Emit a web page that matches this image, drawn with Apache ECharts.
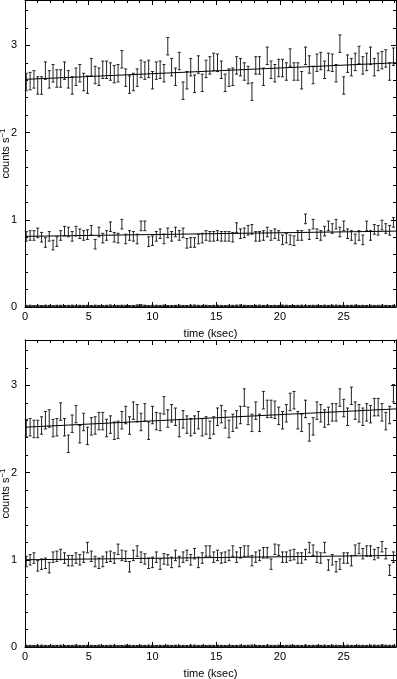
<!DOCTYPE html>
<html>
<head>
<meta charset="utf-8">
<script src="https://cdn.jsdelivr.net/npm/echarts@6/dist/echarts.min.js"></script>
<style>
html, body { margin: 0; padding: 0; background: #fff; }
#chart { width: 397px; height: 679px; }
</style>
</head>
<body>
<div id="chart"></div>
<script>
// time bins (ksec)
var BIN = 0.3, T0 = 0.1;
var X_MAX = 29.1, Y_MAX = 3.52;

// upper panel: source band, second band, background
var srcA = [2.58,2.59,2.61,2.54,2.54,2.71,2.61,2.68,2.62,2.62,2.71,2.61,2.54,2.64,2.68,2.58,2.55,2.75,2.66,2.64,
    2.72,2.72,2.70,2.67,2.68,2.84,2.63,2.55,2.58,2.63,2.73,2.71,2.73,2.60,2.71,2.72,2.68,2.99,2.75,2.64,
    2.82,2.48,2.60,2.75,2.56,2.78,2.57,2.73,2.77,2.81,2.80,2.72,2.57,2.63,2.64,2.77,2.75,2.70,2.66,2.47,
    2.77,2.77,2.64,2.88,2.72,2.68,2.74,2.74,2.70,2.86,2.70,2.70,2.60,2.88,2.78,2.66,2.80,2.82,2.72,2.81,
    2.80,2.68,3.02,2.54,2.79,2.75,2.81,2.89,2.77,2.81,2.88,2.75,2.81,2.83,2.85,2.70,2.87];
var midA = [0.81,0.82,0.82,0.85,0.80,0.74,0.81,0.71,0.75,0.82,0.87,0.86,0.81,0.87,0.84,0.82,0.83,0.88,0.72,0.86,
    0.79,0.82,0.92,0.80,0.79,0.95,0.78,0.82,0.81,0.78,0.93,0.93,0.75,0.76,0.81,0.84,0.78,0.85,0.81,0.86,
    0.82,0.85,0.73,0.74,0.74,0.78,0.79,0.82,0.81,0.81,0.82,0.81,0.81,0.81,0.80,0.91,0.84,0.85,0.88,0.89,
    0.81,0.81,0.82,0.86,0.82,0.84,0.82,0.77,0.79,0.77,0.76,0.82,0.82,1.01,0.83,0.95,0.84,0.82,0.87,0.93,
    0.90,0.95,0.86,0.93,0.84,0.82,0.78,0.82,0.77,0.93,0.82,0.89,0.88,0.94,0.90,0.88,0.97];
var bgA = [0.010,0.012,0.008,0.011,0.009,0.013,0.010,0.007,0.012,0.011,0.009,0.010,0.014,0.008,0.011,0.010,
    0.012,0.009,0.013,0.010,0.008,0.011,0.015,0.009,0.010,0.012,0.011,0.008,0.010,0.016,0.018,0.013,0.009,
    0.011,0.012,0.010,0.014,0.009,0.008,0.011,0.013,0.010,0.009,0.012,0.015,0.011,0.010,0.012,0.009,0.011,
    0.013,0.010,0.008,0.012,0.011,0.014,0.016,0.012,0.010,0.009,0.011,0.013,0.010,0.012,0.009,0.011,0.010,
    0.014,0.012,0.009,0.010,0.011,0.013,0.008,0.010,0.012,0.011,0.009,0.013,0.010,0.012,0.014,0.011,0.009,
    0.010,0.012,0.013,0.010,0.011,0.009,0.012,0.010,0.011,0.013,0.010,0.009,0.012];

// lower panel
var srcB = [2.51,2.52,2.50,2.50,2.54,2.60,2.62,2.51,2.52,2.70,2.52,2.33,2.56,2.67,2.44,2.58,2.42,2.53,2.54,2.59,
    2.59,2.51,2.55,2.48,2.49,2.60,2.66,2.54,2.71,2.68,2.58,2.69,2.48,2.66,2.59,2.58,2.77,2.62,2.68,2.64,
    2.51,2.61,2.55,2.52,2.55,2.60,2.52,2.54,2.49,2.54,2.64,2.67,2.61,2.50,2.57,2.61,2.66,2.86,2.65,2.57,
    2.71,2.57,2.83,2.73,2.73,2.72,2.65,2.60,2.68,2.81,2.83,2.60,2.57,2.73,2.46,2.53,2.71,2.68,2.62,2.65,
    2.69,2.69,2.86,2.74,2.64,2.88,2.71,2.68,2.64,2.69,2.67,2.75,2.75,2.69,2.59,2.66,2.91];
var midB = [0.98,1.00,1.02,0.93,0.95,0.96,0.91,1.03,1.04,1.06,1.02,0.99,0.99,1.02,1.00,1.03,1.14,1.04,0.98,0.96,
    0.98,1.03,1.04,1.02,1.12,1.05,1.04,0.92,1.05,1.10,1.03,1.01,0.96,0.97,1.03,0.95,1.01,1.00,0.97,1.05,
    0.98,1.03,1.05,1.00,1.07,0.97,1.02,1.10,1.10,1.03,1.05,1.02,1.03,1.05,1.10,1.03,1.08,1.10,1.10,0.99,
    1.03,1.05,1.08,1.08,0.95,1.12,1.11,1.03,1.03,1.05,1.06,1.02,1.02,1.06,1.14,1.11,1.03,1.02,1.14,0.94,
    1.00,0.92,0.95,1.02,1.02,0.99,1.11,1.13,1.07,1.10,1.10,1.06,1.08,1.15,1.07,0.88,1.03];
var bgB = [0.012,0.010,0.009,0.011,0.013,0.010,0.008,0.011,0.010,0.012,0.009,0.010,0.011,0.014,0.010,0.009,
    0.012,0.011,0.010,0.013,0.009,0.010,0.012,0.011,0.008,0.010,0.013,0.012,0.010,0.009,0.011,0.010,0.014,
    0.012,0.010,0.011,0.009,0.013,0.010,0.012,0.011,0.010,0.009,0.012,0.014,0.010,0.011,0.009,0.012,0.010,
    0.013,0.011,0.010,0.012,0.009,0.011,0.013,0.010,0.012,0.015,0.011,0.010,0.009,0.012,0.011,0.010,0.013,
    0.009,0.011,0.012,0.010,0.011,0.009,0.013,0.010,0.012,0.011,0.010,0.014,0.009,0.011,0.012,0.010,0.011,
    0.013,0.010,0.009,0.012,0.011,0.010,0.012,0.014,0.011,0.016,0.013,0.012,0.011];

// 1-sigma half lengths
var errA = [0.10, 0.055, 0.008];
var errB = [0.10, 0.06, 0.008];

// linear fits [at t=0, at t=X_MAX]
var fitA = [[2.61, 2.80], [0.81, 0.87], [0.01, 0.01]];
var fitB = [[2.52, 2.73], [1.00, 1.05], [0.01, 0.01]];

var FONT = 'Liberation Sans';
var INK = '#000';

function merge(a, b) {
    var o = {};
    for (var k in a) o[k] = a[k];
    for (var k2 in b) o[k2] = b[k2];
    return o;
}

/*
  four x axes and four y axes per grid: labelled major, minor ticks, mirrored ones
 */
function xAxes(g) {
    var base = {
        type: 'value', gridIndex: g, min: 0, max: X_MAX,
        splitLine: { show: false },
        axisLine: { show: true, onZero: false, lineStyle: { color: INK, width: 1 } },
        axisLabel: { show: false }
    };
    return [
        merge(base, {
            position: 'bottom', interval: 5,
            axisTick: { inside: true, length: 5, lineStyle: { color: INK } },
            axisLabel: { show: true, showMaxLabel: false, margin: 4, color: INK, fontSize: 11, fontFamily: FONT },
            name: 'time (ksec)', nameLocation: 'middle', nameGap: 21, nameMoveOverlap: false,
            nameTextStyle: { color: INK, fontSize: 11, fontFamily: FONT }
        }),
        merge(base, {
            position: 'bottom', interval: 1,
            axisLine: { show: false, onZero: false },
            axisTick: { inside: true, length: 3, lineStyle: { color: INK } }
        }),
        merge(base, {
            position: 'top', interval: 5,
            axisTick: { inside: true, length: 5, lineStyle: { color: INK } }
        }),
        merge(base, {
            position: 'top', interval: 1,
            axisLine: { show: false, onZero: false },
            axisTick: { inside: true, length: 3, lineStyle: { color: INK } }
        })
    ];
}

function yAxes(g) {
    var base = {
        type: 'value', gridIndex: g, min: 0, max: Y_MAX,
        splitLine: { show: false },
        axisLine: { show: true, onZero: false, lineStyle: { color: INK, width: 1 } },
        axisLabel: { show: false }
    };
    return [
        merge(base, {
            position: 'left', interval: 1,
            axisTick: { inside: true, length: 5, lineStyle: { color: INK } },
            axisLabel: { show: true, showMaxLabel: false, margin: 8, color: INK, fontSize: 11, fontFamily: FONT },
            name: 'counts s{sup|−1}', nameLocation: 'middle', nameGap: 13, nameMoveOverlap: false,
            nameTextStyle: {
                color: INK, fontSize: 11, fontFamily: FONT,
                rich: { sup: { fontSize: 8, fontFamily: FONT, color: INK, verticalAlign: 'top', padding: [0, 0, 5, 0] } }
            }
        }),
        merge(base, {
            position: 'left', interval: 0.2,
            axisLine: { show: false, onZero: false },
            axisTick: { inside: true, length: 3, lineStyle: { color: INK } }
        }),
        merge(base, {
            position: 'right', interval: 1,
            axisTick: { inside: true, length: 5, lineStyle: { color: INK } }
        }),
        merge(base, {
            position: 'right', interval: 0.2,
            axisLine: { show: false, onZero: false },
            axisTick: { inside: true, length: 3, lineStyle: { color: INK } }
        })
    ];
}

// error bars with small caps
function errorBars(axisIdx, values, err) {
    var data = values.map(function(v, i) {
        return [T0 + i * BIN, v - err, v + err];
    });
    return {
        type: 'custom', xAxisIndex: axisIdx, yAxisIndex: axisIdx,
        data: data, silent: true,
        encode: { x: 0, y: [1, 2] },
        renderItem: function(params, api) {
            var t = api.value(0);
            var lo = api.coord([t, api.value(1)]);
            var hi = api.coord([t, api.value(2)]);
            var w = 1.5;
            var st = { stroke: '#222', lineWidth: 1 };
            return {
                type: 'group',
                children: [
                    { type: 'line', shape: { x1: lo[0], y1: lo[1], x2: hi[0], y2: hi[1] }, style: st },
                    { type: 'line', shape: { x1: lo[0] - w, y1: lo[1], x2: lo[0] + w, y2: lo[1] }, style: st },
                    { type: 'line', shape: { x1: hi[0] - w, y1: hi[1], x2: hi[0] + w, y2: hi[1] }, style: st }
                ]
            };
        }
    };
}

function fitLine(axisIdx, ends) {
    return {
        type: 'line', xAxisIndex: axisIdx, yAxisIndex: axisIdx,
        data: [[0, ends[0]], [X_MAX, ends[1]]],
        symbol: 'none', silent: true,
        lineStyle: { color: INK, width: 1 }
    };
}

function panelSeries(axisIdx, bands, errs, fits) {
    var out = [];
    bands.forEach(function(b, k) {
        out.push(errorBars(axisIdx, b, errs[k]));
        out.push(fitLine(axisIdx, fits[k]));
    });
    return out;
}

var chart = echarts.init(document.getElementById('chart'), null, { renderer: 'canvas' });
chart.setOption({
    animation: false,
    backgroundColor: '#fff',
    grid: [
        { left: 25, right: 1, top: 0, height: 307, containLabel: false, outerBoundsMode: 'none' },
        { left: 25, right: 1, top: 340, height: 307, containLabel: false, outerBoundsMode: 'none' }
    ],
    xAxis: xAxes(0).concat(xAxes(1)),
    yAxis: yAxes(0).concat(yAxes(1)),
    series: panelSeries(0, [srcA, midA, bgA], errA, fitA)
        .concat(panelSeries(4, [srcB, midB, bgB], errB, fitB))
});
</script>
</body>
</html>
